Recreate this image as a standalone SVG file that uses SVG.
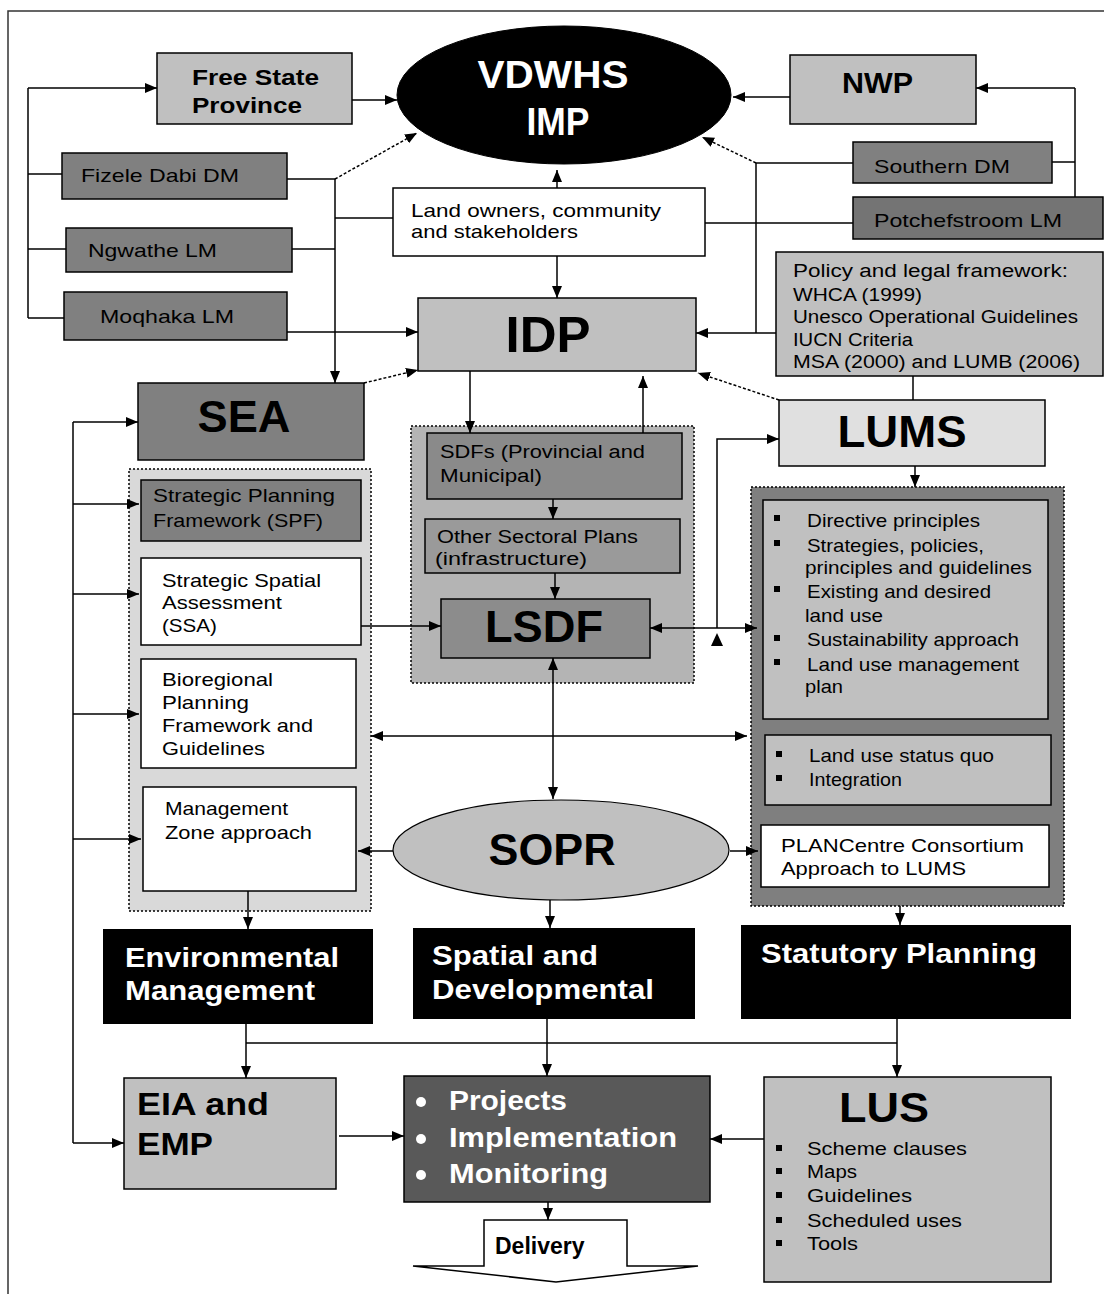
<svg xmlns="http://www.w3.org/2000/svg" width="1104" height="1294" viewBox="0 0 1104 1294">
<style>
.bx{stroke:#000;stroke-width:1.5}
.lg{fill:#c0c0c0}
.dg{fill:#808080}
.wh{fill:#fff}
.bk{fill:#000}
.t{font-family:"Liberation Sans",Arial,sans-serif;font-size:19px;fill:#000}
.s18{font-size:18px}
.b{font-weight:bold}
.w{fill:#fff}
.m{text-anchor:middle}
.c line,.c polyline,.c path{stroke:#000;stroke-width:1.5;fill:none}
.c .tri{fill:#000;stroke:none}
.dash{stroke-dasharray:3 2}
.dot{stroke:#000;stroke-width:1.5;stroke-dasharray:2 2}
</style>
<defs>
<marker id="ah" viewBox="0 0 12 10" markerUnits="userSpaceOnUse" markerWidth="12" markerHeight="10" refX="12" refY="5" orient="auto-start-reverse">
<path d="M0,0 L12,5 L0,10 z" fill="#000"/>
</marker>
</defs>
<rect width="1104" height="1294" fill="#fff"/>
<g id="frame"><path d="M8,1294 V11 H1104" fill="none" stroke="#333" stroke-width="1.5"/></g>

<g id="containers">
<rect id="env-group" x="129" y="469" width="242" height="442" fill="#d9d9d9" class="dot"/>
<rect id="sdf-group" x="411" y="426" width="283" height="257" fill="#b4b4b4" class="dot"/>
<rect id="lums-group" x="751" y="487" width="313" height="419" fill="#7f7f7f" class="dot"/>
</g>

<g class="c" id="connectors">
<polyline points="28,318 28,88"/>
<line x1="28" y1="88" x2="157" y2="88" marker-end="url(#ah)"/>
<line x1="28" y1="174" x2="62" y2="174"/>
<line x1="28" y1="249" x2="66" y2="249"/>
<line x1="28" y1="318" x2="64" y2="318"/>
<line x1="352" y1="100" x2="397" y2="100" marker-end="url(#ah)"/>
<line x1="287" y1="179" x2="335" y2="179"/>
<line class="dash" x1="335" y1="179" x2="417" y2="133" marker-end="url(#ah)"/>
<line x1="335" y1="179" x2="335" y2="383" marker-end="url(#ah)"/>
<line x1="292" y1="249" x2="335" y2="249"/>
<line x1="335" y1="218" x2="393" y2="218"/>
<line x1="287" y1="332" x2="418" y2="332" marker-end="url(#ah)"/>
<line class="dash" x1="364" y1="383" x2="418" y2="370" marker-end="url(#ah)"/>
<line x1="557" y1="188" x2="557" y2="170" marker-end="url(#ah)"/>
<line x1="557" y1="256" x2="557" y2="298" marker-end="url(#ah)"/>
<line x1="790" y1="97" x2="733" y2="97" marker-end="url(#ah)"/>
<polyline points="1075,200 1075,88"/>
<line x1="1075" y1="88" x2="976" y2="88" marker-end="url(#ah)"/>
<line x1="1052" y1="162" x2="1075" y2="162"/>
<line x1="853" y1="163" x2="756" y2="163"/>
<line class="dash" x1="756" y1="163" x2="702" y2="137" marker-end="url(#ah)"/>
<line x1="756" y1="163" x2="756" y2="333"/>
<line x1="853" y1="223" x2="705" y2="223"/>
<line x1="776" y1="333" x2="696" y2="333" marker-end="url(#ah)"/>
<line x1="913" y1="376" x2="913" y2="400"/>
<line class="dash" x1="779" y1="400" x2="698" y2="373" marker-end="url(#ah)"/>
<line x1="470" y1="371" x2="470" y2="433" marker-end="url(#ah)"/>
<line x1="643" y1="433" x2="643" y2="376" marker-end="url(#ah)"/>
<line x1="553" y1="499" x2="553" y2="519" marker-end="url(#ah)"/>
<line x1="555" y1="573" x2="555" y2="599" marker-end="url(#ah)"/>
<line x1="361" y1="626" x2="441" y2="626" marker-end="url(#ah)"/>
<line x1="650" y1="628" x2="757" y2="628" marker-start="url(#ah)" marker-end="url(#ah)"/>
<polyline points="717,628 717,439 779,439" marker-end="url(#ah)"/>
<polygon class="tri" points="717,633 723,646 711,646"/>
<line x1="915" y1="466" x2="915" y2="487" marker-end="url(#ah)"/>
<line x1="553" y1="658" x2="553" y2="799" marker-start="url(#ah)" marker-end="url(#ah)"/>
<line x1="371" y1="736" x2="747" y2="736" marker-start="url(#ah)" marker-end="url(#ah)"/>
<line x1="393" y1="851" x2="358" y2="851" marker-end="url(#ah)"/>
<line x1="730" y1="851" x2="758" y2="851" marker-end="url(#ah)"/>
<line x1="550" y1="900" x2="550" y2="928" marker-end="url(#ah)"/>
<line x1="248" y1="891" x2="248" y2="929" marker-end="url(#ah)"/>
<line x1="900" y1="906" x2="900" y2="925" marker-end="url(#ah)"/>
<polyline points="73,422 73,1143"/>
<line x1="73" y1="422" x2="138" y2="422" marker-end="url(#ah)"/>
<line x1="73" y1="504" x2="139" y2="504" marker-end="url(#ah)"/>
<line x1="73" y1="594" x2="139" y2="594" marker-end="url(#ah)"/>
<line x1="73" y1="714" x2="139" y2="714" marker-end="url(#ah)"/>
<line x1="73" y1="839" x2="141" y2="839" marker-end="url(#ah)"/>
<line x1="73" y1="1143" x2="124" y2="1143" marker-end="url(#ah)"/>
<line x1="246" y1="1024" x2="246" y2="1078" marker-end="url(#ah)"/>
<line x1="246" y1="1043" x2="897" y2="1043"/>
<line x1="547" y1="1019" x2="547" y2="1076" marker-end="url(#ah)"/>
<line x1="897" y1="1019" x2="897" y2="1077" marker-end="url(#ah)"/>
<line x1="339" y1="1136" x2="404" y2="1136" marker-end="url(#ah)"/>
<line x1="764" y1="1139" x2="710" y2="1139" marker-end="url(#ah)"/>
<line x1="548" y1="1202" x2="548" y2="1220" marker-end="url(#ah)"/>
</g>

<g id="vdwhs">
<ellipse cx="564" cy="95" rx="167" ry="69" class="bk" stroke="#000"/>
<text class="t b w m" x="553" y="88" style="font-size:39px" textLength="151" lengthAdjust="spacingAndGlyphs">VDWHS</text>
<text class="t b w m" x="558" y="135" style="font-size:39px" textLength="63" lengthAdjust="spacingAndGlyphs">IMP</text>
</g>
<g id="free-state">
<rect x="157" y="53" width="195" height="71" class="bx lg"/>
<text class="t b" x="192" y="85" style="font-size:22px" textLength="127" lengthAdjust="spacingAndGlyphs">Free State</text>
<text class="t b" x="192" y="113" style="font-size:22px" textLength="110" lengthAdjust="spacingAndGlyphs">Province</text>
</g>
<g id="nwp">
<rect x="790" y="55" width="186" height="69" class="bx lg"/>
<text class="t b" x="842" y="93" style="font-size:30px" textLength="71" lengthAdjust="spacingAndGlyphs">NWP</text>
</g>
<g id="fizele">
<rect x="62" y="153" width="225" height="46" class="bx dg"/>
<text class="t" x="81" y="182" textLength="158" lengthAdjust="spacingAndGlyphs">Fizele Dabi DM</text>
</g>
<g id="ngwathe">
<rect x="66" y="228" width="226" height="44" class="bx dg"/>
<text class="t" x="88" y="257" textLength="129" lengthAdjust="spacingAndGlyphs">Ngwathe LM</text>
</g>
<g id="moqhaka">
<rect x="64" y="292" width="223" height="48" class="bx dg"/>
<text class="t" x="100" y="323" textLength="134" lengthAdjust="spacingAndGlyphs">Moqhaka LM</text>
</g>
<g id="southern">
<rect x="853" y="142" width="199" height="41" class="bx dg"/>
<text class="t" x="874" y="173" textLength="136" lengthAdjust="spacingAndGlyphs">Southern DM</text>
</g>
<g id="potchefstroom">
<rect x="853" y="197" width="250" height="42" class="bx" fill="#747474"/>
<text class="t" x="874" y="227" textLength="188" lengthAdjust="spacingAndGlyphs">Potchefstroom LM</text>
</g>
<g id="landowners">
<rect x="393" y="188" width="312" height="68" class="bx wh"/>
<text class="t" x="411" y="217" textLength="250" lengthAdjust="spacingAndGlyphs">Land owners, community</text>
<text class="t" x="411" y="238" textLength="167" lengthAdjust="spacingAndGlyphs">and stakeholders</text>
</g>
<g id="policy">
<rect x="776" y="252" width="327" height="124" class="bx lg"/>
<text class="t s18" x="793" y="277" textLength="275" lengthAdjust="spacingAndGlyphs">Policy and legal framework:</text>
<text class="t s18" x="793" y="301" textLength="129" lengthAdjust="spacingAndGlyphs">WHCA (1999)</text>
<text class="t s18" x="793" y="323" textLength="285" lengthAdjust="spacingAndGlyphs">Unesco Operational Guidelines</text>
<text class="t s18" x="793" y="346" textLength="120" lengthAdjust="spacingAndGlyphs">IUCN Criteria</text>
<text class="t s18" x="793" y="368" textLength="287" lengthAdjust="spacingAndGlyphs">MSA (2000) and LUMB (2006)</text>
</g>
<g id="idp">
<rect x="418" y="298" width="278" height="73" class="bx lg"/>
<text class="t b m" x="548" y="352" style="font-size:50px" textLength="85" lengthAdjust="spacingAndGlyphs">IDP</text>
</g>
<g id="sea">
<rect x="138" y="383" width="226" height="77" class="bx dg"/>
<text class="t b m" x="244" y="432" style="font-size:44px" textLength="93" lengthAdjust="spacingAndGlyphs">SEA</text>
</g>
<g id="lums">
<rect x="779" y="400" width="266" height="66" class="bx" fill="#e0e0e0"/>
<text class="t b m" x="902" y="447" style="font-size:44px" textLength="129" lengthAdjust="spacingAndGlyphs">LUMS</text>
</g>
<g id="spf">
<rect x="141" y="480" width="220" height="61" class="bx dg"/>
<text class="t" x="153" y="502" textLength="182" lengthAdjust="spacingAndGlyphs">Strategic Planning</text>
<text class="t" x="153" y="527" textLength="170" lengthAdjust="spacingAndGlyphs">Framework (SPF)</text>
</g>
<g id="ssa">
<rect x="141" y="558" width="220" height="87" class="bx wh"/>
<text class="t" x="162" y="587" textLength="159" lengthAdjust="spacingAndGlyphs">Strategic Spatial</text>
<text class="t" x="162" y="609" textLength="120" lengthAdjust="spacingAndGlyphs">Assessment</text>
<text class="t" x="162" y="632" textLength="55" lengthAdjust="spacingAndGlyphs">(SSA)</text>
</g>
<g id="bioregional">
<rect x="141" y="659" width="215" height="109" class="bx wh"/>
<text class="t" x="162" y="686" textLength="111" lengthAdjust="spacingAndGlyphs">Bioregional</text>
<text class="t" x="162" y="709" textLength="87" lengthAdjust="spacingAndGlyphs">Planning</text>
<text class="t" x="162" y="732" textLength="151" lengthAdjust="spacingAndGlyphs">Framework and</text>
<text class="t" x="162" y="755" textLength="103" lengthAdjust="spacingAndGlyphs">Guidelines</text>
</g>
<g id="management-zone">
<rect x="143" y="787" width="213" height="104" class="bx wh"/>
<text class="t" x="165" y="815" textLength="123" lengthAdjust="spacingAndGlyphs">Management</text>
<text class="t" x="165" y="839" textLength="147" lengthAdjust="spacingAndGlyphs">Zone approach</text>
</g>
<g id="sdfs">
<rect x="427" y="433" width="255" height="66" class="bx" fill="#8a8a8a"/>
<text class="t s18" x="440" y="458" textLength="205" lengthAdjust="spacingAndGlyphs">SDFs (Provincial and</text>
<text class="t s18" x="440" y="482" textLength="102" lengthAdjust="spacingAndGlyphs">Municipal)</text>
</g>
<g id="sectoral">
<rect x="425" y="519" width="255" height="54" class="bx" fill="#9a9a9a"/>
<text class="t s18" x="437" y="543" textLength="201" lengthAdjust="spacingAndGlyphs">Other Sectoral Plans</text>
<text class="t s18" x="435" y="565" textLength="152" lengthAdjust="spacingAndGlyphs">(infrastructure)</text>
</g>
<g id="lsdf">
<rect x="441" y="599" width="209" height="59" class="bx" fill="#8c8c8c"/>
<text class="t b m" x="544" y="642" style="font-size:44px" textLength="118" lengthAdjust="spacingAndGlyphs">LSDF</text>
</g>
<g id="lums-principles">
<rect x="763" y="500" width="285" height="219" class="bx lg"/>
<g fill="#000">
<rect x="774" y="515" width="6" height="6"/>
<rect x="774" y="540" width="6" height="6"/>
<rect x="774" y="586" width="6" height="6"/>
<rect x="774" y="635" width="6" height="6"/>
<rect x="774" y="659" width="6" height="6"/>
</g>
<text class="t" x="807" y="527" textLength="173" lengthAdjust="spacingAndGlyphs">Directive principles</text>
<text class="t" x="807" y="552" textLength="177" lengthAdjust="spacingAndGlyphs">Strategies, policies,</text>
<text class="t" x="805" y="574" textLength="227" lengthAdjust="spacingAndGlyphs">principles and guidelines</text>
<text class="t" x="807" y="598" textLength="184" lengthAdjust="spacingAndGlyphs">Existing and desired</text>
<text class="t" x="805" y="622" textLength="78" lengthAdjust="spacingAndGlyphs">land use</text>
<text class="t" x="807" y="646" textLength="212" lengthAdjust="spacingAndGlyphs">Sustainability approach</text>
<text class="t" x="807" y="671" textLength="212" lengthAdjust="spacingAndGlyphs">Land use management</text>
<text class="t" x="805" y="693" textLength="38" lengthAdjust="spacingAndGlyphs">plan</text>
</g>
<g id="lums-status">
<rect x="765" y="735" width="286" height="70" class="bx lg"/>
<g fill="#000">
<rect x="776" y="751" width="6" height="6"/>
<rect x="776" y="775" width="6" height="6"/>
</g>
<text class="t" x="809" y="762" textLength="185" lengthAdjust="spacingAndGlyphs">Land use status quo</text>
<text class="t" x="809" y="786" textLength="93" lengthAdjust="spacingAndGlyphs">Integration</text>
</g>
<g id="plancentre">
<rect x="761" y="825" width="288" height="62" class="bx wh"/>
<text class="t" x="781" y="852" textLength="243" lengthAdjust="spacingAndGlyphs">PLANCentre Consortium</text>
<text class="t" x="781" y="875" textLength="185" lengthAdjust="spacingAndGlyphs">Approach to LUMS</text>
</g>
<g id="sopr">
<ellipse cx="561" cy="850" rx="168" ry="50" class="lg" stroke="#000" stroke-width="1.2"/>
<text class="t b m" x="552" y="865" style="font-size:44px" textLength="127" lengthAdjust="spacingAndGlyphs">SOPR</text>
</g>
<g id="environmental">
<rect x="103" y="929" width="270" height="95" class="bk"/>
<text class="t b w" x="125" y="967" style="font-size:28px" textLength="214" lengthAdjust="spacingAndGlyphs">Environmental</text>
<text class="t b w" x="125" y="1000" style="font-size:28px" textLength="190" lengthAdjust="spacingAndGlyphs">Management</text>
</g>
<g id="spatial">
<rect x="413" y="928" width="282" height="91" class="bk"/>
<text class="t b w" x="432" y="965" style="font-size:28px" textLength="166" lengthAdjust="spacingAndGlyphs">Spatial and</text>
<text class="t b w" x="432" y="999" style="font-size:28px" textLength="222" lengthAdjust="spacingAndGlyphs">Developmental</text>
</g>
<g id="statutory">
<rect x="741" y="925" width="330" height="94" class="bk"/>
<text class="t b w" x="761" y="963" style="font-size:28px" textLength="276" lengthAdjust="spacingAndGlyphs">Statutory Planning</text>
</g>
<g id="eia">
<rect x="124" y="1078" width="212" height="111" class="bx lg"/>
<text class="t b" x="137" y="1115" style="font-size:32px" textLength="132" lengthAdjust="spacingAndGlyphs">EIA and</text>
<text class="t b" x="137" y="1155" style="font-size:32px" textLength="76" lengthAdjust="spacingAndGlyphs">EMP</text>
</g>
<g id="projects">
<rect x="404" y="1076" width="306" height="126" class="bx" fill="#595959"/>
<g fill="#fff">
<circle cx="421" cy="1102" r="5"/>
<circle cx="421" cy="1139" r="5"/>
<circle cx="421" cy="1175" r="5"/>
</g>
<text class="t b w" x="449" y="1110" style="font-size:27px" textLength="118" lengthAdjust="spacingAndGlyphs">Projects</text>
<text class="t b w" x="449" y="1147" style="font-size:27px" textLength="228" lengthAdjust="spacingAndGlyphs">Implementation</text>
<text class="t b w" x="449" y="1183" style="font-size:27px" textLength="159" lengthAdjust="spacingAndGlyphs">Monitoring</text>
</g>
<g id="lus">
<rect x="764" y="1077" width="287" height="205" class="bx lg"/>
<text class="t b m" x="884" y="1122" style="font-size:42px" textLength="90" lengthAdjust="spacingAndGlyphs">LUS</text>
<g fill="#000">
<rect x="776" y="1145" width="6" height="6"/>
<rect x="776" y="1168" width="6" height="6"/>
<rect x="776" y="1192" width="6" height="6"/>
<rect x="776" y="1217" width="6" height="6"/>
<rect x="776" y="1240" width="6" height="6"/>
</g>
<text class="t" x="807" y="1155" textLength="160" lengthAdjust="spacingAndGlyphs">Scheme clauses</text>
<text class="t" x="807" y="1178" textLength="50" lengthAdjust="spacingAndGlyphs">Maps</text>
<text class="t" x="807" y="1202" textLength="105" lengthAdjust="spacingAndGlyphs">Guidelines</text>
<text class="t" x="807" y="1227" textLength="155" lengthAdjust="spacingAndGlyphs">Scheduled uses</text>
<text class="t" x="807" y="1250" textLength="51" lengthAdjust="spacingAndGlyphs">Tools</text>
</g>
<g id="delivery">
<polygon points="484,1220 627,1220 627,1266 698,1266 556,1282 413,1266 484,1266" fill="#fff" stroke="#000" stroke-width="1.5"/>
<text class="t b" x="495" y="1254" style="font-size:23px">Delivery</text>
</g>
</svg>
